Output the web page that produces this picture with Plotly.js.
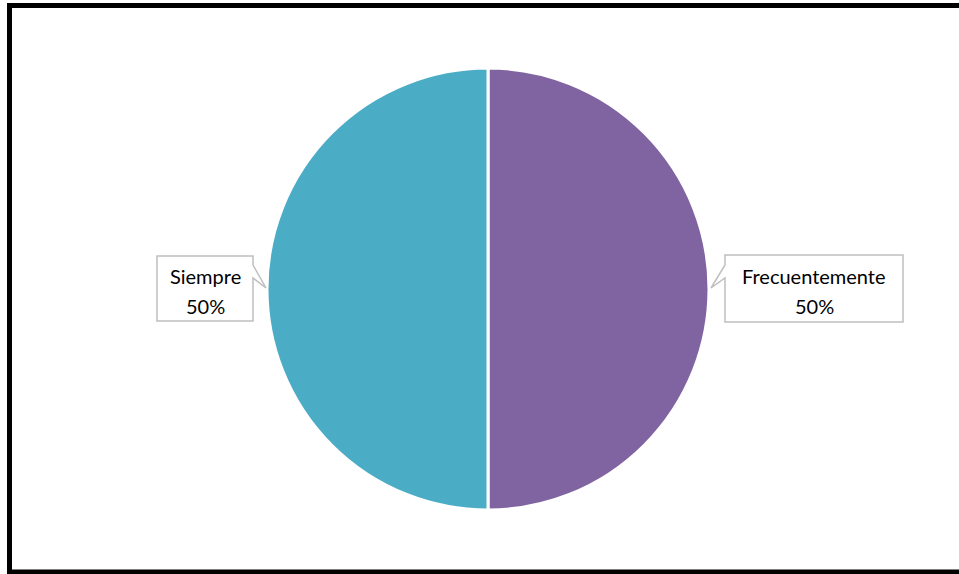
<!DOCTYPE html>
<html>
<head>
<meta charset="utf-8">
<script src="https://cdn.plot.ly/plotly-3.0.1.min.js"></script>
<style>html,body{margin:0;padding:0;background:#fff;}#chart{width:959px;height:574px;}</style>
</head>
<body>
<div id="chart"></div>
<script>
const categories = ['Frecuentemente', 'Siempre'];
const values = [50, 50];
const colors = ['#8064A2', '#4BACC6'];

const W = 959, H = 574;
const px = x => x / W;
const py = y => 1 - y / H;
function path(pts) {
  return 'M' + pts.map(p => px(p[0]) + ',' + py(p[1])).join(' L') + ' Z';
}

const total = values.reduce((a, b) => a + b, 0);
const pct = values.map(v => Math.round(v / total * 100) + '%');

const cx = 488, cy = 289, r = 221;

const trace = {
  type: 'pie',
  labels: categories,
  values: values,
  sort: false,
  direction: 'clockwise',
  rotation: 0,
  textinfo: 'none',
  hoverinfo: 'label+percent',
  marker: { colors: colors, line: { color: '#ffffff', width: 3 } },
  domain: { x: [px(cx - r), px(cx + r)], y: [py(cy + r), py(cy - r)] },
  showlegend: false
};

// callout boxes (decoration)
const boxes = [
  { l: 725, r: 903, t: 255, b: 322, side: 'left', tip: [711, 288], n1: 265, n2: 278 },
  { l: 157, r: 253, t: 256, b: 321, side: 'right', tip: [266, 288], n1: 265, n2: 278 }
];
const shapes = [];
const annotations = [];
const lblFont = { family: 'Lato, "Open Sans", sans-serif', size: 20, color: '#000' };
boxes.forEach((bx, i) => {
  let pts;
  if (bx.side === 'left') {
    pts = [[bx.l, bx.t], [bx.r, bx.t], [bx.r, bx.b], [bx.l, bx.b], [bx.l, bx.n2], bx.tip, [bx.l, bx.n1]];
  } else {
    pts = [[bx.l, bx.t], [bx.r, bx.t], [bx.r, bx.n1], bx.tip, [bx.r, bx.n2], [bx.r, bx.b], [bx.l, bx.b]];
  }
  shapes.push({
    type: 'path', xref: 'paper', yref: 'paper', path: path(pts),
    fillcolor: '#ffffff', line: { color: '#BFBFBF', width: 1.5 }
  });
  const mx = (bx.l + bx.r) / 2;
  annotations.push({
    xref: 'paper', yref: 'paper', x: px(mx), y: py(276), showarrow: false,
    text: categories[i], xanchor: 'center', yanchor: 'middle', font: lblFont
  });
  annotations.push({
    xref: 'paper', yref: 'paper', x: px(mx), y: py(306), showarrow: false,
    text: pct[i], xanchor: 'center', yanchor: 'middle', font: lblFont
  });
});

// outer border
shapes.push({
  type: 'rect', xref: 'paper', yref: 'paper',
  x0: px(9.5), x1: px(975), y0: py(572), y1: py(5.5),
  line: { color: '#000', width: 5 }, fillcolor: 'rgba(0,0,0,0)'
});

const layout = {
  width: W, height: H,
  margin: { l: 0, r: 0, t: 0, b: 0 },
  paper_bgcolor: '#ffffff',
  plot_bgcolor: '#ffffff',
  shapes: shapes,
  annotations: annotations
};

Plotly.newPlot('chart', [trace], layout, { displayModeBar: false, staticPlot: true });
</script>
</body>
</html>
